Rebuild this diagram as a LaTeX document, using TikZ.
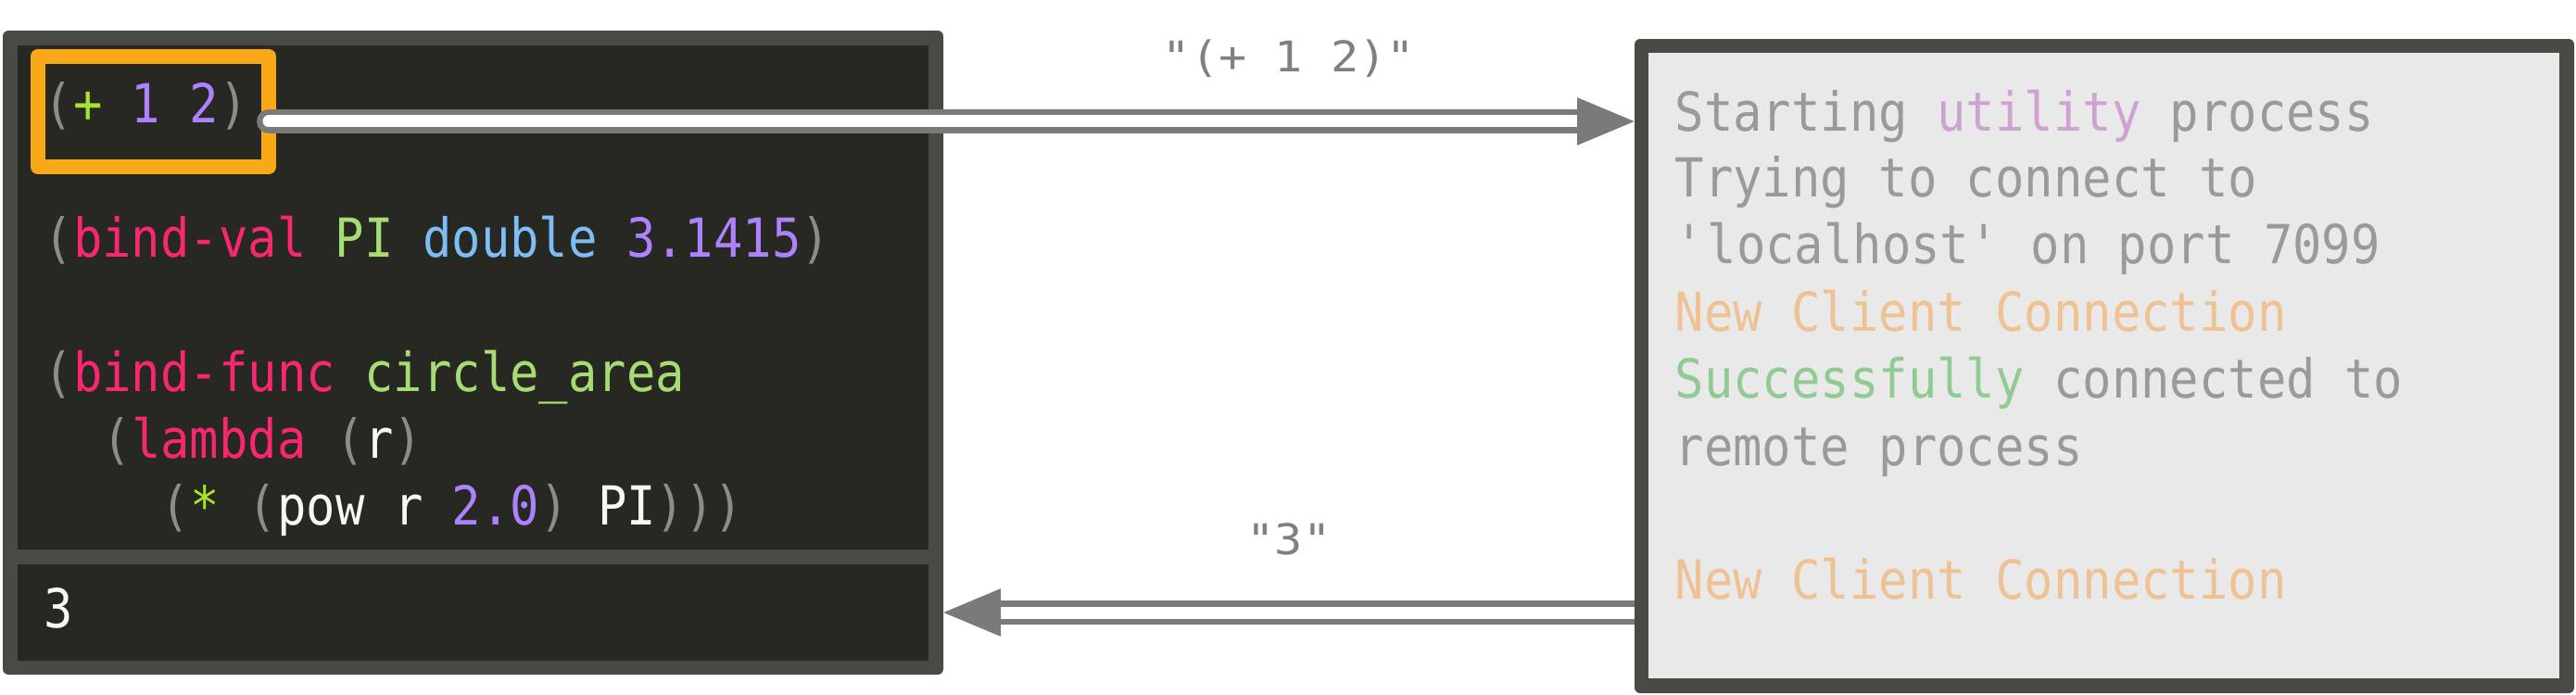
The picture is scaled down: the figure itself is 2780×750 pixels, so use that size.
\documentclass[tikz,border=0pt]{standalone}
\usepackage{fontspec}
\usepackage{xcolor}
\usepackage{tikz}
\usetikzlibrary{arrows.meta,positioning,calc}
\newfontfamily\codefont[FakeStretch=0.9]{DejaVu Sans Mono}
\newfontfamily\lblfont[FakeStretch=1.1]{DejaVu Sans Mono}
\definecolor{frame}{HTML}{4A4A45}
\definecolor{codebg}{HTML}{272822}
\definecolor{hilite}{HTML}{F9A918}
\definecolor{wire}{HTML}{7A7A7A}
\definecolor{lblgray}{HTML}{808080}
\definecolor{logbg}{HTML}{E9E9E9}
\definecolor{logtxt}{HTML}{9A9A9A}
\definecolor{utilpur}{HTML}{CEA2D2}
\definecolor{connor}{HTML}{EEC293}
\definecolor{okgreen}{HTML}{91CB91}
\definecolor{paren}{HTML}{8C8C8C}
\definecolor{kwpink}{HTML}{F92672}
\definecolor{opgreen}{HTML}{A6E22E}
\definecolor{namegreen}{HTML}{A6DC73}
\definecolor{tyblue}{HTML}{7CBEF5}
\definecolor{numpur}{HTML}{AE81FF}
\definecolor{plain}{HTML}{F8F8F2}
\tikzset{
  panel/.style={rectangle, rounded corners=0.6mm, fill=frame, inner sep=0pt, outer sep=0pt},
  pane/.style={rectangle, inner sep=0pt, outer sep=0pt},
  codeln/.style={anchor=base west, inner sep=0pt,
                 font=\codefont\fontsize{16.5pt}{20pt}\selectfont, text=plain},
  logln/.style={codeln, text=logtxt},
  hl/.style={rectangle, draw=hilite, line width=1.6mm, line join=round,
             inner sep=0pt, outer sep=0pt},
  wirearr/.style={draw=wire, line width=0.65mm, double=white, double distance=1.3mm,
                  -{Triangle[length=6.2mm,width=5mm]}},
  lbl/.style={anchor=base, inner sep=0pt,
              font=\lblfont\fontsize{13pt}{15pt}\selectfont, text=lblgray}
}
\newcommand{\pn}[1]{\textcolor{paren}{#1}}
\newcommand{\kw}[1]{\textcolor{kwpink}{#1}}
\newcommand{\op}[1]{\textcolor{opgreen}{#1}}
\newcommand{\nm}[1]{\textcolor{namegreen}{#1}}
\newcommand{\ty}[1]{\textcolor{tyblue}{#1}}
\newcommand{\num}[1]{\textcolor{numpur}{#1}}

\begin{document}
\begin{tikzpicture}[x=0.1mm, y=-0.1mm]
  \useasboundingbox (0,0) rectangle (2780,750);
  % repl window
  \node[panel, minimum width=101.5mm, minimum height=69.5mm] (repl) at (510.5,380.5) {};
  \node[pane, fill=codebg, minimum width=98.3mm, minimum height=54.4mm] (code) at (510.5,321) {};
  \node[pane, fill=codebg, minimum width=98.3mm, minimum height=10.4mm] (out) at (510.5,661) {};
  \node[hl, minimum width=24.9mm, minimum height=11.9mm] (hl) at (165.5,120.5) {};
  \node[codeln] (l1) at (47,133) {\pn{(}\op{+} \num{1} \num{2}\pn{)}};
  \node[codeln] (l2) at (47,277) {\pn{(}\kw{bind-val} \nm{PI} \ty{double} \num{3.1415}\pn{)}};
  \node[codeln] (l3) at (47,422) {\pn{(}\kw{bind-func} \nm{circle\_area}};
  \node[codeln] (l4) at (110,494) {\pn{(}\kw{lambda} \pn{(}r\pn{)}};
  \node[codeln] (l5) at (173,566) {\pn{(}\op{*} \pn{(}pow r \num{2.0}\pn{)} PI\pn{)))}};
  \node[codeln] (res) at (47,677) {3};
  % remote process log
  \node[panel, minimum width=101.4mm, minimum height=70.6mm] (log) at (2271,395) {};
  \node[pane, fill=logbg, minimum width=98.3mm, minimum height=67.5mm] (logarea) at (2270.5,394.5) {};
  \node[logln] (g1) at (1807,142) {Starting \textcolor{utilpur}{utility} process};
  \node[logln] (g2) at (1807,213) {Trying to connect to};
  \node[logln] (g3) at (1807,285) {\textquotesingle localhost\textquotesingle{} on port 7099};
  \node[logln, text=connor] (g4) at (1807,357) {New Client Connection};
  \node[logln] (g5) at (1807,429) {\textcolor{okgreen}{Successfully} connected to};
  \node[logln] (g6) at (1807,502) {remote process};
  \node[logln, text=connor] (g7) at (1807,646) {New Client Connection};
  % messages
  \coordinate (tx) at (290,131);
  \draw[wirearr, line cap=round] (tx) -- (tx -| log.west);
  \draw[wirearr] (out.east -| log.west) -- (out.east -| repl.east);
  \node[lbl] (sendlbl) at (1391,78) {"(+ 1 2)"};
  \node[lbl] (backlbl) at (1391,598) {"3"};
\end{tikzpicture}
\end{document}
